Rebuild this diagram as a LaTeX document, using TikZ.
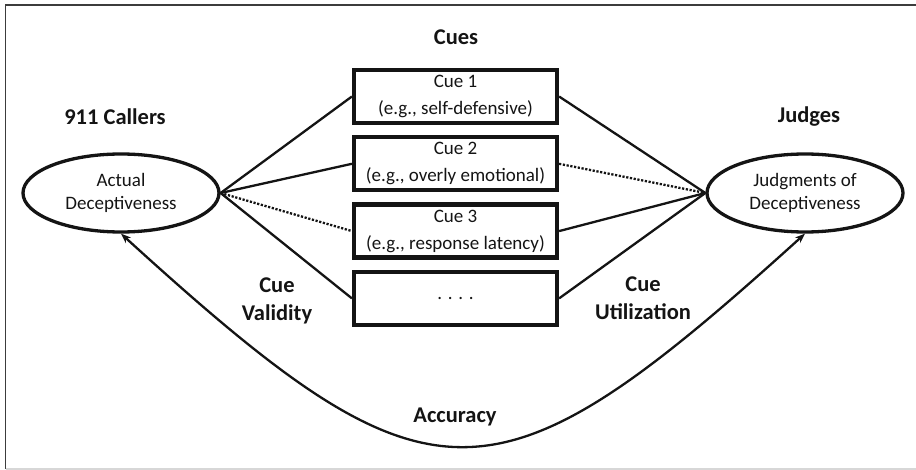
\documentclass[tikz,border=0pt]{standalone}
\usepackage{fontspec}
\setmainfont{Carlito}
\usepackage{tikz}
\usetikzlibrary{arrows.meta,positioning,shapes.geometric}
\definecolor{lensBlack}{RGB}{20,20,20}
\definecolor{lensFrame}{RGB}{60,60,60}
\definecolor{lensRule}{RGB}{215,215,215}

\begin{document}
\begin{tikzpicture}[
    x=1pt, y=-1pt,
    every node/.style={text=lensBlack},
    heading/.style={font=\fontsize{22.5}{28}\selectfont\bfseries, align=center},
    judgebox/.style={ellipse, draw=lensBlack, line width=3.3pt, minimum width=196pt, minimum height=78pt, inner sep=0pt,
      font=\fontsize{19}{23}\selectfont, align=center},
    cuebox/.style={rectangle, draw=lensBlack, line width=4.2pt, minimum width=203pt, minimum height=53pt, inner sep=0pt,
      font=\fontsize{19}{27}\selectfont, align=center},
    link/.style={draw=lensBlack, line width=2.3pt},
    weaklink/.style={draw=lensBlack, line width=2.3pt, dash pattern=on 2.2pt off 1.6pt}
]
\useasboundingbox (0,0) rectangle (916,470);
\draw[lensFrame, line width=1.6pt] (916,5) -- (5.5,5) -- (5.5,469);
\draw[lensRule, line width=1.2pt] (5.5,469) -- (916,469);

\node[heading] (cues) at (456,37) {Cues};
\node[heading] (callers) at (115,117) {911 Callers};
\node[heading] (judges) at (809,117) {Judges};

\node[judgebox] (actual) at (121,193) {Actual\\Deceptiveness};
\node[judgebox] (judged) at (805,193) {Judgments of\\Deceptiveness};

\foreach \y/\n/\t in {96.5/1/{Cue 1\\(e.g., self-defensive)},
                      163.8/2/{Cue 2\\(e.g., overly emotional)},
                      231.1/3/{Cue 3\\(e.g., response latency)},
                      298.4/4/{. . . .}} {
  \node[cuebox] (cue\n) at (455.5,\y) {\t};
}

\foreach \a/\b in {actual/cue1,actual/cue2,actual/cue4} \draw[link] (\a.east)--(\b.west);
\draw[weaklink] (actual.east)--(cue3.west);
\foreach \a/\b in {cue1/judged,cue3/judged,cue4/judged} \draw[link] (\a.east)--(\b.west);
\draw[weaklink] (cue2.east)--(judged.west);

\node[heading] (validity) at (277,301) {Cue\\Validity};
\node[heading] (utilization) at (643,298) {Cue\\Utilization};

\draw[link, {Stealth[length=10pt,width=7.5pt]}-{Stealth[length=10pt,width=7.5pt]}]
  (actual.south) .. controls (432,517) and (492,517) .. (judged.south);
\node[heading] (accuracy) at (455,417) {Accuracy};
\end{tikzpicture}
\end{document}
